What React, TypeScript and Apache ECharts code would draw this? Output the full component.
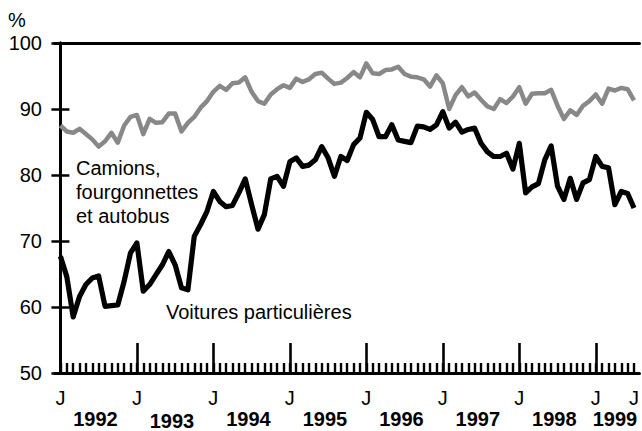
import React, { useEffect, useRef } from "react";
import * as echarts from "echarts";

// Monthly index 0 = January 1992 ... 90 = July 1999
const firstYear = 1992;
const yearLabels = ["1992", "1993", "1994", "1995", "1996", "1997", "1998", "1999"];
const monthInitial = "J";
const yTicks = [50, 60, 70, 80, 90, 100];

// Voitures particulières (black)
const voitures = [
  67.7, 64.6, 58.5, 61.6, 63.4, 64.4, 64.7, 60.1, 60.2, 60.3, 63.9, 68.2,
  69.7, 62.4, 63.4, 64.9, 66.4, 68.4, 66.4, 62.9, 62.6, 70.7, 72.5, 74.5,
  77.5, 76.0, 75.2, 75.4, 77.3, 79.4, 75.5, 71.8, 74.0, 79.4, 79.8, 78.3,
  82.0, 82.6, 81.3, 81.5, 82.3, 84.3, 82.6, 79.8, 82.8, 82.2, 84.6, 85.6,
  89.5, 88.4, 85.8, 85.8, 87.6, 85.3, 85.1, 84.9, 87.4, 87.3, 86.9, 87.6,
  89.6, 87.1, 88.0, 86.5, 86.9, 87.1, 84.8, 83.5, 82.8, 82.8, 83.3, 80.9,
  84.8, 77.3, 78.2, 78.7, 82.3, 84.4, 78.3, 76.3, 79.5, 76.3, 78.8, 79.3,
  82.8, 81.3, 81.1, 75.5, 77.5, 77.2, 75.0,
];

// Camions, fourgonnettes et autobus (grey)
const camions = [
  87.5, 86.6, 86.4, 87.0, 86.2, 85.4, 84.3, 85.1, 86.4, 84.9, 87.5, 88.8,
  89.1, 86.2, 88.5, 87.9, 88.0, 89.3, 89.3, 86.6, 87.9, 88.8, 90.2, 91.2,
  92.6, 93.5, 92.9, 93.9, 94.0, 94.8, 92.6, 91.2, 90.8, 92.2, 93.0, 93.6,
  93.2, 94.6, 94.1, 94.5, 95.3, 95.5, 94.6, 93.8, 94.0, 94.7, 95.6, 94.8,
  96.9, 95.4, 95.3, 95.9, 96.0, 96.4, 95.3, 94.9, 94.8, 94.5, 93.4, 95.1,
  93.9, 90.0, 92.1, 93.3, 91.9, 92.5, 91.4, 90.4, 90.0, 91.5, 90.9, 91.9,
  93.3, 90.8, 92.3, 92.4, 92.4, 92.9, 90.5, 88.5, 89.8, 89.1, 90.5, 91.2,
  92.2, 90.8, 93.1, 92.8, 93.2, 93.0, 91.3,
];

const FONT = "'Liberation Sans', Arial, Helvetica, sans-serif";

export default function App() {
  const ref = useRef<HTMLDivElement>(null);

  useEffect(() => {
    if (!ref.current) return;
    const chart = echarts.init(ref.current, undefined, { renderer: "svg" });

    const n = voitures.length;
    const lastIdx = n - 1;
    const months = Array.from({ length: n }, (_, i) => i);
    const januaries = months.filter((i) => i % 12 === 0);
    const jLabels = [...januaries, lastIdx];
    const yearPos = yearLabels.map((_, k) => {
      const start = k * 12;
      const end = Math.min(start + 11, lastIdx);
      return end === start + 11 ? start + 5.5 : (start + end) / 2;
    });

    const xMin = -0.85;
    const xMax = lastIdx + 0.85;

    const option: echarts.EChartsOption = {
      animation: false,
      backgroundColor: "#fff",
      textStyle: { fontFamily: FONT },
      grid: { left: 55, right: 2, top: 43, bottom: 57, containLabel: false },
      xAxis: [
        {
          type: "value",
          min: xMin,
          max: xMax,
          position: "bottom",
          axisLine: { show: true, onZero: false, lineStyle: { color: "#000", width: 3 } },
          axisTick: {
            show: true,
            inside: true,
            length: 10,
            lineStyle: { color: "#000", width: 2.4 },
            customValues: months,
          } as any,
          axisLabel: {
            show: true,
            customValues: jLabels,
            formatter: () => monthInitial,
            fontSize: 20,
            lineHeight: 20,
            color: "#000",
            fontFamily: FONT,
            margin: 15,
          } as any,
          splitLine: { show: false },
        },
        {
          type: "value",
          min: xMin,
          max: xMax,
          position: "bottom",
          axisLine: { show: false },
          axisTick: {
            show: true,
            inside: true,
            length: 30,
            lineStyle: { color: "#000", width: 2.6 },
            customValues: januaries,
          } as any,
          axisLabel: {
            show: true,
            customValues: yearPos,
            formatter: (v: number) => {
              const y = String(firstYear + Math.floor(v / 12));
              return y === "1993" ? "{lo|" + y + "}" : "{b|" + y + "}";
            },
            rich: {
              b: { fontSize: 20, lineHeight: 20, fontWeight: "bold", color: "#000", fontFamily: FONT },
              lo: {
                fontSize: 20,
                lineHeight: 20,
                fontWeight: "bold",
                color: "#000",
                fontFamily: FONT,
                padding: [4, 0, 0, 0],
              },
            },
            margin: 36,
          } as any,
          splitLine: { show: false },
        },
        {
          type: "value",
          min: xMin,
          max: xMax,
          position: "top",
          axisLine: { show: true, onZero: false, lineStyle: { color: "#000", width: 3 } },
          axisTick: { show: false },
          axisLabel: { show: false },
          splitLine: { show: false },
        },
      ],
      yAxis: [
        {
          type: "value",
          min: yTicks[0],
          max: yTicks[yTicks.length - 1],
          interval: 10,
          position: "left",
          axisLine: { show: true, lineStyle: { color: "#000", width: 3 } },
          axisTick: { show: true, inside: true, length: 9, lineStyle: { color: "#000", width: 2.5 } },
          axisLabel: { fontSize: 20, color: "#000", fontFamily: FONT, margin: 13 },
          splitLine: { show: false },
        },
        {
          type: "value",
          min: yTicks[0],
          max: yTicks[yTicks.length - 1],
          interval: 10,
          position: "right",
          axisLine: { show: true, lineStyle: { color: "#000", width: 3 } },
          axisTick: { show: true, inside: true, length: 9, lineStyle: { color: "#000", width: 2.5 } },
          axisLabel: { show: false },
          splitLine: { show: false },
        },
      ],
      series: [
        {
          name: "Camions, fourgonnettes et autobus",
          type: "line",
          xAxisIndex: 0,
          yAxisIndex: 0,
          data: camions.map((v, i) => [i, v]),
          showSymbol: false,
          lineStyle: { color: "#888888", width: 4.5, join: "round" } as any,
          itemStyle: { color: "#888888" },
          z: 3,
        },
        {
          name: "Voitures particulières",
          type: "line",
          xAxisIndex: 0,
          yAxisIndex: 0,
          data: voitures.map((v, i) => [i, v]),
          showSymbol: false,
          lineStyle: { color: "#000000", width: 5.2, join: "round" } as any,
          itemStyle: { color: "#000000" },
          z: 4,
        },
      ],
      graphic: [
        {
          type: "text",
          left: 8,
          top: 10,
          style: { text: "%", fontSize: 20, fill: "#000", fontFamily: FONT },
        },
        {
          type: "text",
          x: 76,
          y: 156,
          style: {
            text: "Camions,\nfourgonnettes\net autobus",
            fontSize: 20,
            lineHeight: 24,
            fill: "#000",
            fontFamily: FONT,
          },
        },
        {
          type: "text",
          x: 166,
          y: 302,
          style: {
            text: "Voitures particulières",
            fontSize: 20,
            fill: "#000",
            fontFamily: FONT,
          },
        },
      ],
    };

    chart.setOption(option);
    return () => chart.dispose();
  }, []);

  return <div ref={ref} style={{ width: 642, height: 431, position: "absolute", left: 0, top: 0 }} />;
}
